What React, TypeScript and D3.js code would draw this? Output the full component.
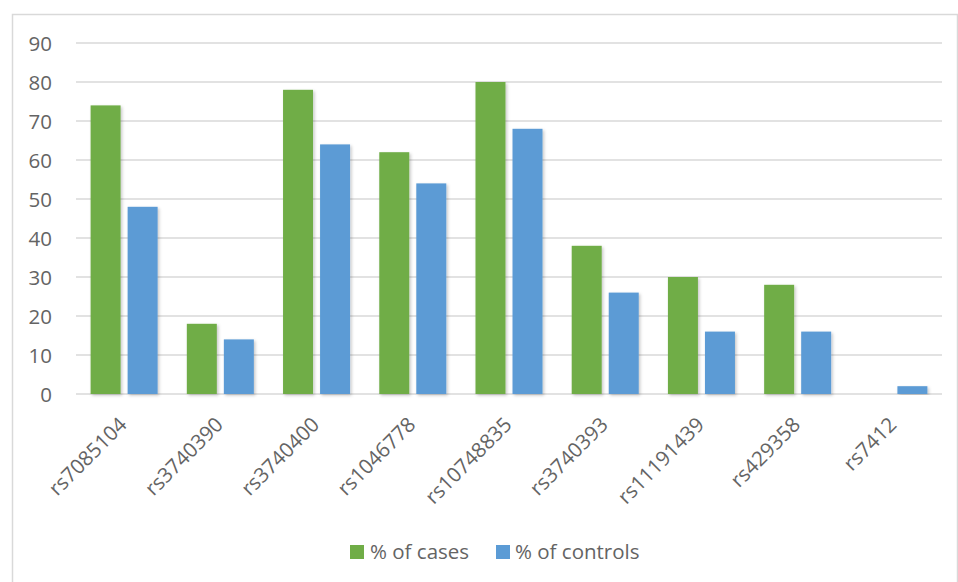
import React from "react";
import * as d3 from "d3";

const categories = [
  "rs7085104",
  "rs3740390",
  "rs3740400",
  "rs1046778",
  "rs10748835",
  "rs3740393",
  "rs11191439",
  "rs429358",
  "rs7412",
];
const casesPct = [74, 18, 78, 62, 80, 38, 30, 28, 0];
const controlsPct = [48, 14, 64, 54, 68, 26, 16, 16, 2];
const seriesNames = ["% of cases", "% of controls"];
const seriesColors = ["#70AD47", "#5B9BD5"];
const yTicks = [0, 10, 20, 30, 40, 50, 60, 70, 80, 90];

const W = 958;
const H = 582;
const FONT = "'Open Sans', 'Noto Sans', sans-serif";
const TEXT = "#646464";

export default function App() {
  const x0 = d3
    .scaleBand<string>()
    .domain(categories)
    .range([76, 942])
    .paddingInner(0.3035)
    .paddingOuter(0.15175);
  const x1 = d3
    .scaleBand<string>()
    .domain(seriesNames)
    .range([0, x0.bandwidth()])
    .paddingInner(0.19);
  const y = d3.scaleLinear().domain([0, 90]).range([394, 43]);

  const seriesValues = [casesPct, controlsPct];

  return (
    <svg
      width={W}
      height={H}
      style={{ position: "absolute", left: 0, top: 0, background: "#fff" }}
      fontFamily={FONT}
    >
      <defs>
        <filter id="barShadow" x="-20%" y="-5%" width="150%" height="115%">
          <feDropShadow dx="1.5" dy="1.5" stdDeviation="1.5" floodColor="#000" floodOpacity="0.22" />
        </filter>
      </defs>
      <rect x={0} y={0} width={W} height={H} fill="#fff" />
      {/* chart frame */}
      <rect x={12.5} y={14.5} width={945} height={H + 10} fill="none" stroke="#d9d9d9" strokeWidth={1.5} />

      {/* gridlines */}
      {yTicks.map((t) => (
        <line key={t} x1={76} x2={942} y1={y(t)} y2={y(t)} stroke="#d9d9d9" strokeWidth={1.3} />
      ))}

      {/* y tick labels */}
      {yTicks.map((t) => (
        <text key={"l" + t} x={52} y={y(t) + 7.5} textAnchor="end" fontSize={20.5} fill={TEXT}>
          {t}
        </text>
      ))}

      {/* bars */}
      {categories.map((c, i) => (
        <g key={c} transform={`translate(${x0(c)},0)`}>
          {seriesNames.map((s, j) => {
            const v = seriesValues[j][i];
            if (v <= 0) return null;
            return (
              <rect
                key={s}
                x={x1(s)}
                y={y(v)}
                width={x1.bandwidth()}
                height={y(0) - y(v)}
                fill={seriesColors[j]}
                filter="url(#barShadow)"
              />
            );
          })}
        </g>
      ))}

      {/* category labels */}
      {categories.map((c) => {
        const cx = (x0(c) as number) + x0.bandwidth() / 2 + 4;
        const cy = 426;
        return (
          <text
            key={"x" + c}
            x={cx}
            y={cy}
            textAnchor="end"
            fontSize={20.5}
            fill={TEXT}
            transform={`rotate(-45 ${cx} ${cy})`}
          >
            {c}
          </text>
        );
      })}

      {/* legend */}
      {[
        { sx: 350, tx: 370 },
        { sx: 496, tx: 515 },
      ].map((p, j) => (
        <g key={"lg" + j}>
          <rect x={p.sx} y={545} width={14} height={14} fill={seriesColors[j]} />
          <text x={p.tx} y={559} fontSize={20.5} fill={TEXT}>
            {seriesNames[j]}
          </text>
        </g>
      ))}
    </svg>
  );
}
